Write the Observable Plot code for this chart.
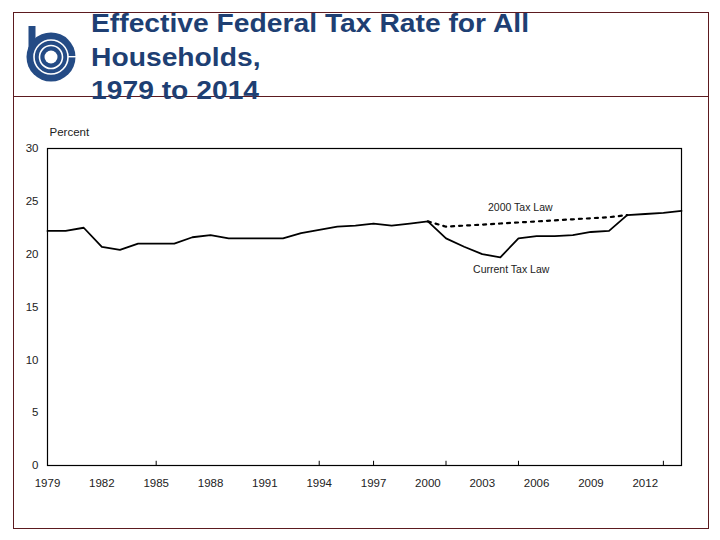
<!DOCTYPE html>
<html>
<head>
<meta charset="utf-8">
<script src="https://cdn.jsdelivr.net/npm/d3@7"></script>
<script src="https://cdn.jsdelivr.net/npm/@observablehq/plot@0.6"></script>
<style>
  html, body { margin: 0; padding: 0; background: #fff; }
  #page { position: relative; width: 720px; height: 540px; overflow: hidden; font-family: "Liberation Sans", Arial, sans-serif; }
  #frame { position: absolute; left: 13px; top: 12px; width: 694px; height: 515px; border: 1px solid #5c1a1f; box-sizing: content-box; }
  #hline { position: absolute; left: 13px; top: 96px; width: 695px; height: 0; border-top: 1px solid #5c1a1f; }
  #title { position: absolute; left: 91px; top: 7px; font-size: 25px; font-weight: bold; line-height: 33.7px; color: #1e3f73; margin: 0; z-index: 2; transform: scaleX(1.13); transform-origin: 0 0; white-space: nowrap; }
  #logo { position: absolute; left: 0; top: 0; z-index: 2; }
  #chart { position: absolute; left: 0; top: 0; z-index: 1; }
</style>
</head>
<body>
<div id="page">
  <div id="frame"></div>
  <div id="hline"></div>
  <svg id="logo" width="100" height="100">
    <circle cx="51" cy="57" r="24.5" fill="#244b85"/>
    <rect x="28.5" y="26" width="7" height="31" fill="#244b85"/>
    <circle cx="51" cy="57" r="17" fill="none" stroke="#fff" stroke-width="1.6"/>
    <circle cx="51" cy="57" r="11.5" fill="none" stroke="#fff" stroke-width="1.6"/>
    <circle cx="51" cy="57" r="6.5" fill="#fff"/>
    <rect x="68" y="56" width="8" height="1.4" fill="#fff"/>
  </svg>
  <div id="title">Effective Federal Tax Rate for All<br>Households,<br>1979 to 2014</div>
  <div id="chart"></div>
</div>
<script>
// Data
const years = [1979,1980,1981,1982,1983,1984,1985,1986,1987,1988,1989,1990,1991,1992,1993,1994,1995,1996,1997,1998,1999,2000,2001,2002,2003,2004,2005,2006,2007,2008,2009,2010,2011,2012,2013,2014];
const currentLaw = [22.2,22.2,22.5,20.7,20.4,21.0,21.0,21.0,21.6,21.8,21.5,21.5,21.5,21.5,22.0,22.3,22.6,22.7,22.9,22.7,22.9,23.1,21.5,20.7,20.0,19.7,21.5,21.7,21.7,21.8,22.1,22.2,23.7,23.8,23.9,24.1];
const law2000Years = [2000,2001,2002,2003,2004,2005,2006,2007,2008,2009,2010,2011];
const law2000 = [23.1,22.6,22.7,22.8,22.9,23.0,23.1,23.2,23.3,23.4,23.5,23.7];
const xTickYears = [1979,1982,1985,1988,1991,1994,1997,2000,2003,2006,2009,2012];
const xTickMarks = [1985,1994,1997,2001,2005,2013];
const yTicks = [0,5,10,15,20,25,30];
const seriesLabels = ["2000 Tax Law","Current Tax Law"];
const labelX = [2005.1, 2004.6];
const labelY = [24.4, 18.5];

const current = years.map((y, i) => ({year: y, value: currentLaw[i]}));
const alt = law2000Years.map((y, i) => ({year: y, value: law2000[i]}));
const labels = seriesLabels.map((t, i) => ({text: t, x: labelX[i], y: labelY[i]}));

const chart = Plot.plot({
  width: 720,
  height: 540,
  marginLeft: 47,
  marginRight: 39,
  marginTop: 148,
  marginBottom: 75,
  style: {fontFamily: "'Liberation Sans', Arial, sans-serif", fontSize: "11.5px", color: "#222", background: "transparent"},
  x: {domain: [1979, 2014], label: null},
  y: {domain: [0, 30], label: null},
  marks: [
    Plot.frame({stroke: "#000", strokeWidth: 1.2}),
    Plot.axisY({ticks: yTicks, tickSize: 0, tickPadding: 9, label: null}),
    Plot.axisX({ticks: xTickYears, tickSize: 0, tickPadding: 13, tickFormat: d => String(d), label: null}),
    Plot.ruleX(xTickMarks, {x: d => d, y1: 0, y2: 0.4, stroke: "#000"}),
    Plot.line(alt, {x: "year", y: "value", stroke: "#000", strokeWidth: 2.2, strokeDasharray: "3,5"}),
    Plot.line(current, {x: "year", y: "value", stroke: "#000", strokeWidth: 1.8}),
    Plot.text(labels, {x: "x", y: "y", text: "text", fill: "#222", fontSize: 10.5}),
    Plot.text(["Percent"], {frameAnchor: "top-left", dx: 2, dy: -21, fill: "#222", fontSize: 11.5, textAnchor: "start"})
  ]
});
document.getElementById("chart").appendChild(chart);
</script>
</body>
</html>
